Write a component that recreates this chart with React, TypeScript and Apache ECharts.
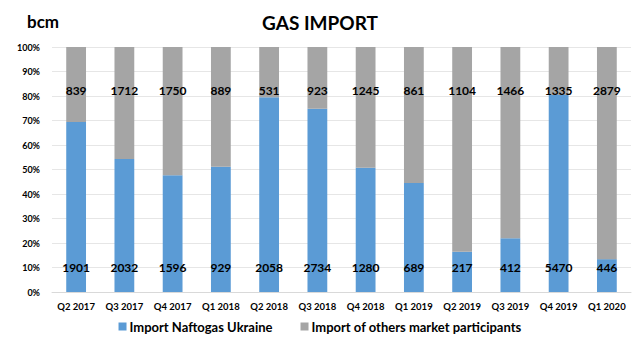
import React, { useEffect, useRef } from "react";
import * as echarts from "echarts";

const categories = ["Q2 2017", "Q3 2017", "Q4 2017", "Q1 2018", "Q2 2018", "Q3 2018", "Q4 2018", "Q1 2019", "Q2 2019", "Q3 2019", "Q4 2019", "Q1 2020"];
const naftogas = [1901, 2032, 1596, 929, 2058, 2734, 1280, 689, 217, 412, 5470, 446];
const others = [839, 1712, 1750, 889, 531, 923, 1245, 861, 1104, 1466, 1335, 2879];
const yTicks = [0, 10, 20, 30, 40, 50, 60, 70, 80, 90, 100];

const FONT = "Lato";

export default function App() {
  const ref = useRef<HTMLDivElement>(null);
  useEffect(() => {
    if (!ref.current) return;
    const chart = echarts.init(ref.current, null, { renderer: "svg" });
    const totals = naftogas.map((v, i) => v + others[i]);
    const pctN = naftogas.map((v, i) => (v / totals[i]) * 100);
    const pctO = others.map((v, i) => (v / totals[i]) * 100);
    chart.setOption({
      animation: false,
      backgroundColor: "#fff",
      textStyle: { fontFamily: FONT },
      title: [
        { text: "GAS IMPORT", left: "center", top: 8, textStyle: { fontFamily: FONT, fontSize: 19, fontWeight: "bold", color: "#000" } },
        { text: "bcm", left: 22, top: 8, textStyle: { fontFamily: FONT, fontSize: 17, fontWeight: "bold", color: "#000" } },
      ],
      legend: {
        bottom: 22,
        left: "center",
        itemWidth: 8,
        itemHeight: 8,
        itemGap: 28,
        icon: "rect",
        textStyle: { fontFamily: FONT, fontSize: 13, fontWeight: "bold", color: "#000", padding: [0, 0, 0, -2] },
        data: ["Import Naftogas Ukraine", "Import of others market participants"],
      },
      grid: { left: 52, right: 9, top: 47, bottom: 68, containLabel: false },
      xAxis: {
        type: "category",
        data: categories,
        axisLine: { show: true, lineStyle: { color: "#d9d9d9" } },
        axisTick: { show: false },
        axisLabel: { fontFamily: FONT, fontSize: 9.5, fontWeight: "bold", color: "#000", margin: 9, interval: 0 },
      },
      yAxis: {
        type: "value",
        min: 0,
        max: 100,
        interval: 10,
        axisLine: { show: false },
        axisTick: { show: false },
        splitLine: { lineStyle: { color: "#e6e6e6" } },
        axisLabel: {
          fontFamily: FONT,
          fontSize: 9,
          fontWeight: "bold",
          color: "#000",
          margin: 12,
          formatter: (v: number) => (yTicks.includes(v) ? v + "%" : ""),
        },
      },
      series: [
        {
          name: "Import Naftogas Ukraine",
          type: "bar",
          stack: "s",
          barWidth: "41%",
          itemStyle: { color: "#5b9bd5" },
          data: pctN,
          label: {
            show: true,
            position: "insideBottom",
            distance: 19,
            fontFamily: FONT,
            fontSize: 12,
            fontWeight: "bold",
            color: "#000",
            formatter: (p: any) => String(naftogas[p.dataIndex]),
          },
        },
        {
          name: "Import of others market participants",
          type: "bar",
          stack: "s",
          itemStyle: { color: "#a5a5a5" },
          data: pctO,
          label: {
            show: true,
            position: "insideTop",
            distance: 37,
            fontFamily: FONT,
            fontSize: 12,
            fontWeight: "bold",
            color: "#000",
            formatter: (p: any) => String(others[p.dataIndex]),
          },
        },
      ],
    });
    return () => chart.dispose();
  }, []);
  return <div ref={ref} style={{ width: 640, height: 360, position: "absolute", left: 0, top: 0 }} />;
}
